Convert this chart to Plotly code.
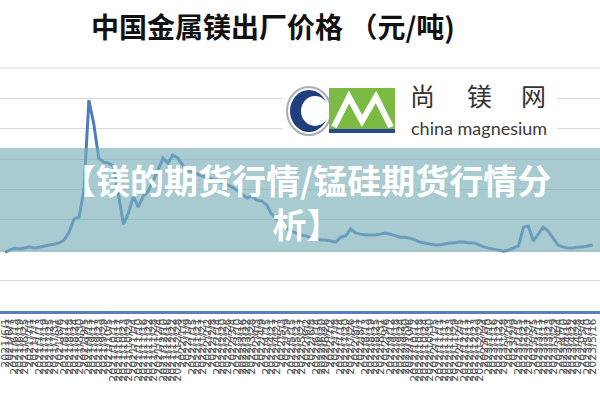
import plotly.graph_objects as go

# ---- data ----
dates = [
    "2021/6/1", "2021/6/7", "2021/6/13", "2021/6/19", "2021/6/25",
    "2021/7/1", "2021/7/7", "2021/7/13", "2021/7/19", "2021/7/25", "2021/7/31",
    "2021/8/6", "2021/8/12", "2021/8/18", "2021/8/24", "2021/8/30",
    "2021/9/5", "2021/9/11", "2021/9/17", "2021/9/23", "2021/9/29",
    "2021/10/5", "2021/10/11", "2021/10/17", "2021/10/23", "2021/10/29",
    "2021/11/4", "2021/11/10", "2021/11/16", "2021/11/22", "2021/11/28",
    "2021/12/4", "2021/12/10", "2021/12/16", "2021/12/22", "2021/12/28",
    "2022/1/3", "2022/1/9", "2022/1/15", "2022/1/21", "2022/1/27",
    "2022/2/2", "2022/2/8", "2022/2/14", "2022/2/20", "2022/2/26",
    "2022/3/4", "2022/3/10", "2022/3/16", "2022/3/22", "2022/3/28",
    "2022/4/3", "2022/4/9", "2022/4/15", "2022/4/21", "2022/4/27",
    "2022/5/3", "2022/5/9", "2022/5/15", "2022/5/21", "2022/5/27",
    "2022/6/2", "2022/6/8", "2022/6/14", "2022/6/20", "2022/6/26",
    "2022/7/2", "2022/7/8", "2022/7/14", "2022/7/20", "2022/7/26",
    "2022/8/1", "2022/8/7", "2022/8/13", "2022/8/19", "2022/8/25", "2022/8/31",
    "2022/9/6", "2022/9/12", "2022/9/18", "2022/9/24", "2022/9/30",
    "2022/10/6", "2022/10/12", "2022/10/18", "2022/10/24", "2022/10/30",
    "2022/11/5", "2022/11/11", "2022/11/17", "2022/11/23", "2022/11/29",
    "2022/12/5", "2022/12/11", "2022/12/17", "2022/12/23", "2022/12/29",
    "2023/1/4", "2023/1/10", "2023/1/16", "2023/1/22", "2023/1/28",
    "2023/2/3", "2023/2/9", "2023/2/15", "2023/2/21", "2023/2/27",
    "2023/3/5", "2023/3/11", "2023/3/17", "2023/3/23", "2023/3/29",
    "2023/4/4", "2023/4/10", "2023/4/16", "2023/4/22", "2023/4/28",
    "2023/5/4", "2023/5/10", "2023/5/16",
]

prices = [
    19400, 20100, 20700, 20400, 20700, 21100, 20700, 21100, 21400, 21700,
    22000, 22400, 23400, 26000, 30300, 30900, 39800, 69400, 61500, 50300,
    49000, 48700, 47700, 38200, 28600, 32200, 37800, 34200, 37800, 39500,
    42800, 46400, 50300, 48700, 51300, 50300, 48000, 46400, 45700, 45100,
    44400, 44100, 43400, 43100, 42100, 41500, 40800, 39800, 38500, 37200,
    37800, 36500, 36200, 34900, 31900, 30300, 28600, 27300, 26300, 25700,
    25000, 24700, 24000, 23700, 23400, 23400, 23000, 22700, 24300, 24700,
    27000, 25700, 25300, 25000, 25000, 25000, 25300, 25700, 25300, 24700,
    24300, 24300, 24000, 23400, 22700, 22400, 22000, 21700, 21700, 22000,
    22400, 22400, 22700, 22700, 22400, 22400, 21700, 21100, 20700, 20400,
    20100, 19700, 20100, 20700, 21400, 27600, 28000, 23000, 25300, 27600,
    26300, 24000, 21700, 21100, 20700, 20700, 21100, 21100, 21400, 21700,
]

title_text = "中国金属镁出厂价格 （元/吨)"
banner_text = "【镁的期货行情/锰硅期货行情分<br>析】"
logo_cn = ["尚", "镁", "网"]
logo_en = "china magnesium"

W, H = 600, 400
PLOT_TOP, PLOT_BOT = 68, 311
CJK = "Noto Sans CJK SC"


def px(xp):
    return xp / W


def py(yp):
    return (PLOT_BOT - yp) / (PLOT_BOT - PLOT_TOP)


fig = go.Figure(
    go.Scatter(
        x=dates, y=prices, mode="lines",
        line=dict(color="#4A7DC0", width=3),
        hoverinfo="x+y", showlegend=False,
    )
)

shapes = []
# logo white background
shapes.append(dict(type="rect", xref="paper", yref="paper", layer="above",
                   x0=px(283), x1=px(557), y0=py(139), y1=py(76),
                   fillcolor="white", line=dict(width=0)))
# C mark: grey outer ring, navy disc, white inner disc
shapes.append(dict(type="circle", xref="paper", yref="paper", layer="above",
                   x0=px(287), x1=px(331), y0=py(135), y1=py(87),
                   fillcolor="rgba(0,0,0,0)", line=dict(color="#A9ADB5", width=2)))
shapes.append(dict(type="circle", xref="paper", yref="paper", layer="above",
                   x0=px(290), x1=px(328), y0=py(132), y1=py(90),
                   fillcolor="#1F3E7C", line=dict(width=0)))
shapes.append(dict(type="circle", xref="paper", yref="paper", layer="above",
                   x0=px(301), x1=px(329), y0=py(126), y1=py(96),
                   fillcolor="white", line=dict(width=0)))
shapes.append(dict(type="rect", xref="paper", yref="paper", layer="above",
                   x0=px(320), x1=px(329), y0=py(118), y1=py(104),
                   fillcolor="white", line=dict(width=0)))
# M mark: green box, white zigzag, navy strip
shapes.append(dict(type="rect", xref="paper", yref="paper", layer="above",
                   x0=px(329), x1=px(395), y0=py(129), y1=py(88),
                   fillcolor="#7BBA43", line=dict(width=0)))
zig = [(334, 127), (349, 97), (362, 121), (376, 97), (391, 127)]
path = "M " + " L ".join(f"{px(a)},{py(b)}" for a, b in zig)
shapes.append(dict(type="path", xref="paper", yref="paper", layer="above",
                   path=path, line=dict(color="white", width=6)))
shapes.append(dict(type="rect", xref="paper", yref="paper", layer="above",
                   x0=px(329), x1=px(395), y0=py(133), y1=py(129),
                   fillcolor="#2B4A8B", line=dict(width=0)))
# translucent banner
shapes.append(dict(type="rect", xref="paper", yref="paper", layer="above",
                   x0=0, x1=1, y0=py(252), y1=py(148),
                   fillcolor="rgba(121,175,185,0.65)", line=dict(width=0)))
# top gridline (80000) drawn explicitly at the plot edge
shapes.append(dict(type="line", xref="paper", yref="paper", layer="below",
                   x0=0, x1=1, y0=1, y1=1, line=dict(color="#D9D9D9", width=1)))

annotations = []
for ch, xc in zip(logo_cn, [422, 479, 533]):
    annotations.append(dict(text=ch, xref="paper", yref="paper",
                            x=px(xc), y=py(115), xanchor="center", yanchor="bottom",
                            showarrow=False,
                            font=dict(family=CJK, size=25, color="#333333")))
annotations.append(dict(text=logo_en, xref="paper", yref="paper",
                        x=px(479), y=py(115), xanchor="center", yanchor="top",
                        showarrow=False,
                        font=dict(family="Lato", size=18, color="#3A3A3A")))
annotations.append(dict(text=banner_text, xref="paper", yref="paper",
                        x=px(306), y=py(201), xanchor="center", yanchor="middle",
                        align="center", showarrow=False,
                        font=dict(family=CJK, size=34, color="white", weight="bold")))

fig.update_layout(
    width=W, height=H,
    margin=dict(l=0, r=0, t=PLOT_TOP, b=H - PLOT_BOT),
    paper_bgcolor="white", plot_bgcolor="white",
    title=dict(text=title_text, x=273 / W, xref="container", xanchor="center",
               y=1 - 28 / H, yref="container", yanchor="middle",
               font=dict(family=CJK, size=28, color="#111111", weight="bold")),
    xaxis=dict(type="category", tickmode="linear", tick0=0, dtick=1,
               range=[-1, len(dates) + 0.5], tickangle=-90,
               tickfont=dict(family="DejaVu Sans", size=11, color="#555555"),
               showgrid=False, showline=True, linecolor="#5A7EC0", linewidth=3,
               ticks="", fixedrange=True, automargin=False),
    yaxis=dict(range=[0, 80000], dtick=10000, showticklabels=False,
               showgrid=True, gridcolor="#D9D9D9", gridwidth=1,
               zeroline=False, showline=False, ticks="", fixedrange=True),
    shapes=shapes, annotations=annotations,
    font=dict(family=CJK),
)

fig.write_html(
    "out.html",
    config={"displayModeBar": False, "staticPlot": False},
    post_script="document.body.style.margin='0';document.body.style.overflow='hidden';",
)
